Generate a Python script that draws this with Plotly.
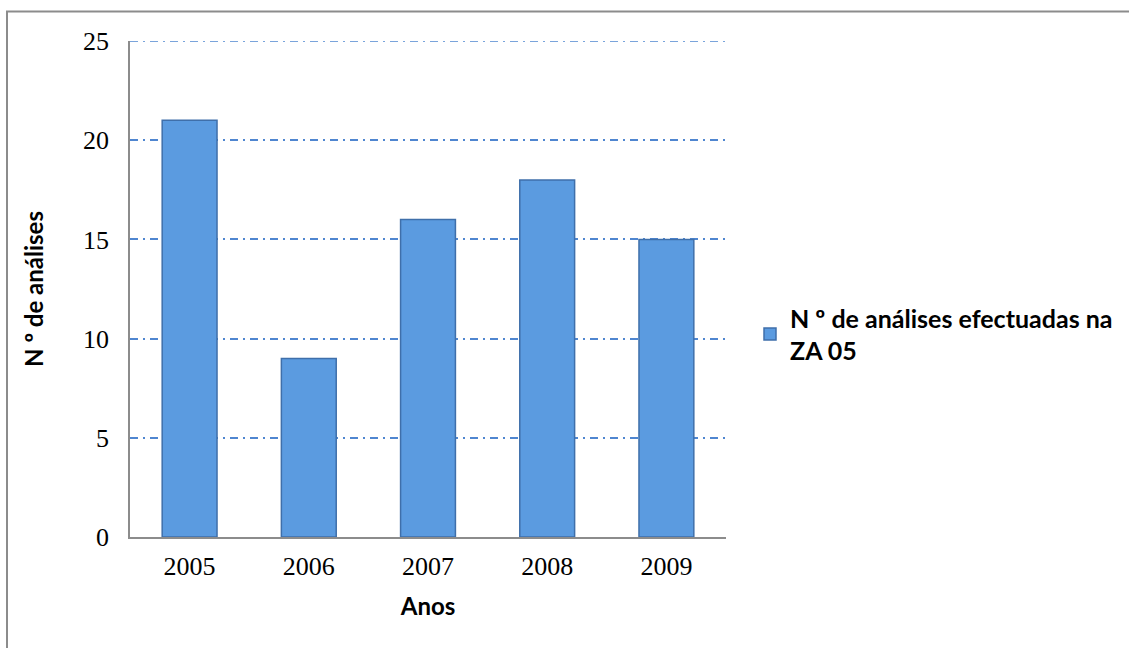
import plotly.graph_objects as go

years = ["2005", "2006", "2007", "2008", "2009"]
analyses = [21, 9, 16, 18, 15]
series_name = "N º de análises efectuadas na<br>ZA 05"
y_ticks = [0, 5, 10, 15, 20, 25]

L, R, T, B = 130, 726, 41, 537
W, H = 1129, 648
pw, ph = R - L, B - T

GRID_COLOR = "#4F86D0"
GRID_DASH = "8px,5px,2px,5px"

def px_x(p):
    return (p - L) / pw

def px_y(p):
    return (B - p) / ph

fig = go.Figure()
fig.add_trace(go.Bar(
    x=years, y=analyses, name=series_name,
    marker=dict(color="#5B9BE0", line=dict(color="#3F6FAA", width=1.5)),
    showlegend=True,
))

title_font = dict(family="Lato", size=24, color="black", weight="bold")

fig.update_layout(
    width=W, height=H,
    margin=dict(l=L, r=W - R, t=T, b=H - B, autoexpand=False),
    paper_bgcolor="white", plot_bgcolor="white",
    bargap=0.54,
    showlegend=True,
    legend=dict(
        x=px_x(750), y=px_y(295), xanchor="left", yanchor="top",
        font=dict(family="Lato", size=25, color="black", weight="bold"),
        bgcolor="rgba(0,0,0,0)", itemwidth=30, tracegroupgap=0,
    ),
    xaxis=dict(
        showline=True, linecolor="#8c8c8c", linewidth=1.5,
        ticks="", tickfont=dict(family="Liberation Serif", size=26, color="black"),
        ticklabelstandoff=5,
        title=dict(text="Anos", font=title_font, standoff=18),
        showgrid=False, zeroline=False,
    ),
    yaxis=dict(
        range=[0, 25], tickvals=y_ticks, ticktext=[str(v) for v in y_ticks],
        showline=True, linecolor="#8c8c8c", linewidth=1.5,
        ticks="", tickfont=dict(family="Liberation Serif", size=26, color="black"),
        ticklabelstandoff=14,
        showgrid=True, gridcolor=GRID_COLOR, gridwidth=1.5, griddash=GRID_DASH,
        zeroline=False,
        title=dict(text="N º de análises", font=title_font, standoff=33),
    ),
)

# top gridline (plotly drops the gridline at the range edge)
fig.add_shape(
    type="line", xref="paper", yref="y",
    x0=0, x1=1, y0=y_ticks[-1], y1=y_ticks[-1],
    line=dict(color=GRID_COLOR, width=1.5, dash=GRID_DASH), layer="below",
)

fig.add_shape(
    type="rect", xref="paper", yref="paper",
    x0=px_x(7), x1=px_x(1140), y0=px_y(660), y1=px_y(11.5),
    line=dict(color="#8c8c8c", width=2), fillcolor="rgba(0,0,0,0)", layer="below",
)

fig.write_html("out.html")
